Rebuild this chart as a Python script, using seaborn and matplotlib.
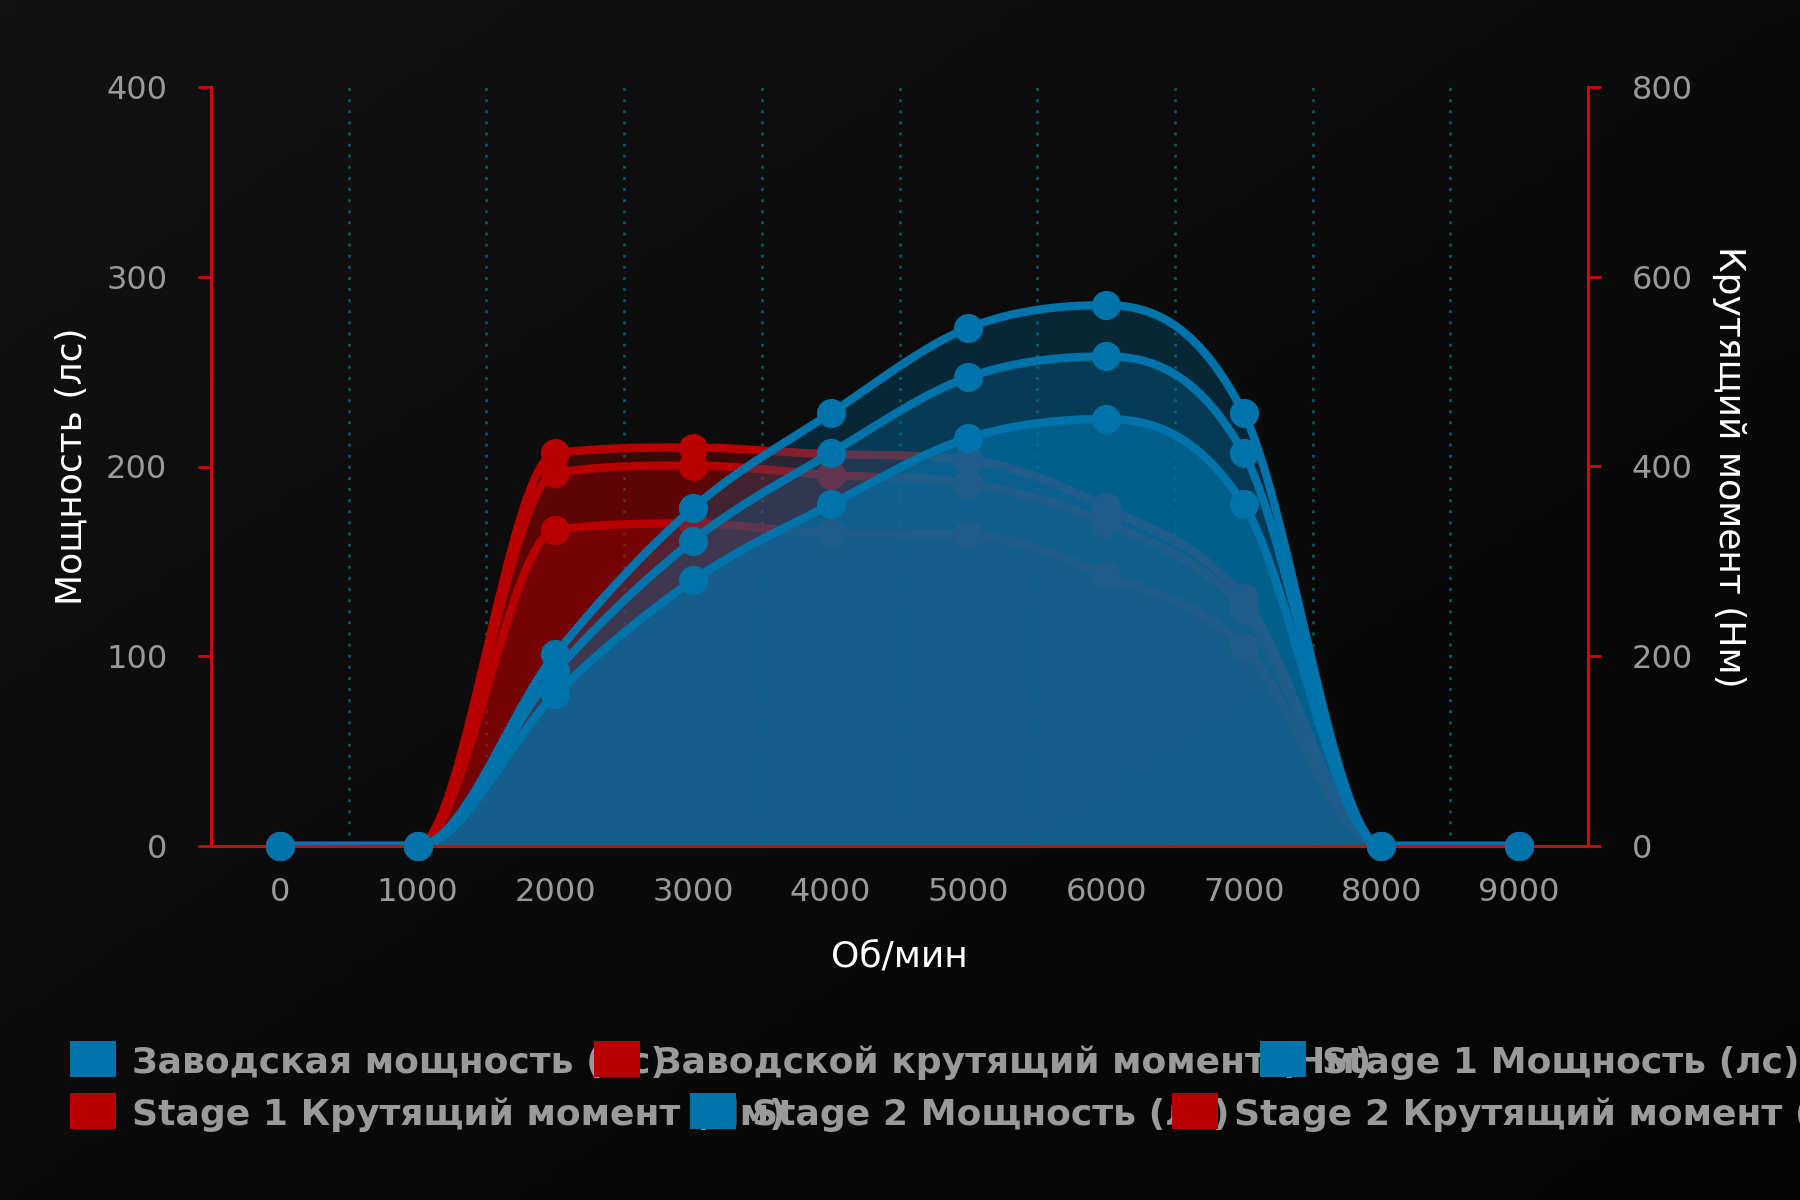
import numpy as np
import matplotlib
matplotlib.use("Agg")
import matplotlib.pyplot as plt
from matplotlib.patches import Rectangle
from matplotlib.ticker import FixedLocator
import seaborn as sns

# ── data ─────────────────────────────────────────────────────
rpm = [0, 1000, 2000, 3000, 4000, 5000, 6000, 7000, 8000, 9000]

power_factory = [0, 0, 80, 140, 180, 215, 225, 180, 0, 0]
power_stage1 = [0, 0, 92, 161, 207, 247, 258, 207, 0, 0]
power_stage2 = [0, 0, 101, 178, 228, 273, 285, 228, 0, 0]

torque_factory = [0, 0, 333, 340, 330, 328, 286, 210, 0, 0]
torque_stage1 = [0, 0, 393, 401, 391, 382, 340, 249, 0, 0]
torque_stage2 = [0, 0, 414, 420, 413, 407, 357, 261, 0, 0]

legend_labels = [
    "Заводская мощность (лс)",
    "Заводской крутящий момент (Нм)",
    "Stage 1 Мощность (лс)",
    "Stage 1 Крутящий момент (Нм)",
    "Stage 2 Мощность (лс)",
    "Stage 2 Крутящий момент (Нм)",
]

BLUE = "#0073AA"
RED = "#B80000"
AXIS_RED = "#CF0A0A"
GREY = "#9a9a9a"
GRID = "#0a5566"


def monotone_curve(xs, ys, steps=60):
    """Monotone cubic (Fritsch-Carlson) through the points, like Chart.js."""
    xs = np.asarray(xs, float)
    ys = np.asarray(ys, float)
    n = len(xs)
    dx = np.diff(xs)
    delta = np.diff(ys) / dx
    m = np.zeros(n)
    m[0] = delta[0]
    m[-1] = delta[-1]
    for i in range(1, n - 1):
        if np.sign(delta[i - 1]) != np.sign(delta[i]):
            m[i] = 0.0
        else:
            m[i] = (delta[i - 1] + delta[i]) / 2
    for i in range(n - 1):
        if abs(delta[i]) < 1e-12:
            m[i] = m[i + 1] = 0.0
            continue
        a = m[i] / delta[i]
        b = m[i + 1] / delta[i]
        sq = a * a + b * b
        if sq > 9:
            tau = 3 / np.sqrt(sq)
            m[i] = a * tau * delta[i]
            m[i + 1] = b * tau * delta[i]
    cx, cy = [], []
    for i in range(n - 1):
        t = np.linspace(0, 1, steps, endpoint=(i == n - 2))
        h00 = 2 * t**3 - 3 * t**2 + 1
        h10 = t**3 - 2 * t**2 + t
        h01 = -2 * t**3 + 3 * t**2
        h11 = t**3 - t**2
        cy.append(h00 * ys[i] + h10 * dx[i] * m[i] + h01 * ys[i + 1] + h11 * dx[i] * m[i + 1])
        cx.append(xs[i] + t * dx[i])
    return np.concatenate(cx), np.concatenate(cy)


sns.set_theme(style="dark")
plt.rcParams["font.family"] = ["DejaVu Sans"]

fig = plt.figure(figsize=(18, 12), dpi=100)

# dark diagonal gradient background
bg = fig.add_axes([0, 0, 1, 1], zorder=-10)
yy, xx = np.mgrid[0:1:120j, 0:1:180j]
shade = (18 - 14 * (xx + yy) / 2) / 255
bg.imshow(np.dstack([shade] * 3), extent=[0, 1, 0, 1], aspect="auto")
bg.axis("off")

ax = fig.add_axes([211 / 1800, 1 - 846 / 1200, 1377 / 1800, 759 / 1200])
ax2 = ax.twinx()
ax.set_zorder(2)
ax2.set_zorder(1)
ax.patch.set_visible(False)
ax2.patch.set_visible(False)

# torque (red) underneath, on the right axis
for vals in [torque_stage2, torque_stage1, torque_factory]:
    cx, cy = monotone_curve(rpm, vals)
    ax2.fill_between(cx, cy, 0, color=RED, alpha=0.28, lw=0, zorder=1)
for vals in [torque_stage2, torque_stage1, torque_factory]:
    cx, cy = monotone_curve(rpm, vals)
    sns.lineplot(x=cx, y=cy, ax=ax2, color=RED, lw=6, sort=False, estimator=None, zorder=2)
    sns.scatterplot(x=rpm, y=vals, ax=ax2, color=RED, s=440, linewidth=0, zorder=3, clip_on=False)

# power (blue) on top, on the left axis; factory fill is much denser
for vals, a in [(power_stage2, 0.27), (power_stage1, 0.27), (power_factory, 0.66)]:
    cx, cy = monotone_curve(rpm, vals)
    ax.fill_between(cx, cy, 0, color=BLUE, alpha=a, lw=0, zorder=1)
for vals in [power_stage2, power_stage1, power_factory]:
    cx, cy = monotone_curve(rpm, vals)
    sns.lineplot(x=cx, y=cy, ax=ax, color=BLUE, lw=6, sort=False, estimator=None, zorder=2)
    sns.scatterplot(x=rpm, y=vals, ax=ax, color=BLUE, s=440, linewidth=0, zorder=3, clip_on=False)

# axes, ticks, grid
ax.set_xlim(-500, 9500)
ax.set_ylim(0, 400)
ax2.set_ylim(0, 800)

ax.set_xticks(rpm)
ax.set_xticklabels([str(r) for r in rpm])
ax.xaxis.set_minor_locator(FixedLocator(np.arange(-500, 9501, 1000)))
ax.tick_params(axis="x", which="major", length=0, pad=22, labelsize=23, labelcolor=GREY)
ax.tick_params(axis="x", which="minor", length=9.5, width=2, color=AXIS_RED)

ax.set_yticks([0, 100, 200, 300, 400])
ax.tick_params(axis="y", length=9.5, width=2, color=AXIS_RED, labelcolor=GREY,
               labelsize=23, pad=22, left=True)
ax2.set_yticks([0, 200, 400, 600, 800])
ax2.tick_params(axis="y", length=9.5, width=2, color=AXIS_RED, labelcolor=GREY,
                labelsize=23, pad=22, right=True)

ax.grid(False)
ax2.grid(False)
ax2.xaxis.set_visible(True)
ax2.tick_params(axis="x", which="both", length=0, labelbottom=False, bottom=False)
ax2.xaxis.grid(True, which="minor", color=GRID, linestyle=(0, (1, 3)), linewidth=2)
ax2.set_axisbelow(True)

for side in ["left", "bottom", "right"]:
    ax.spines[side].set_visible(True)
    ax.spines[side].set_color(AXIS_RED)
    ax.spines[side].set_linewidth(2.2)
ax.spines["top"].set_visible(False)
for side in ax2.spines:
    ax2.spines[side].set_visible(False)

ax.set_xlabel("Об/мин", color="white", fontsize=26, va="center")
ax.xaxis.set_label_coords(0.5, -0.145)
ax.set_ylabel("Мощность (лс)", color="white", fontsize=26, va="center")
ax.yaxis.set_label_coords(-0.101, 0.5)
ax2.set_ylabel("Крутящий момент (Нм)", color="white", fontsize=26, rotation=270, va="center")
ax2.yaxis.set_label_coords(1.1025, 0.5)

# Chart.js-style legend, items overlap just as in the original:
# each colour box is painted over the end of the previous label
legend_colors = [BLUE, RED, BLUE, RED, BLUE, RED]
legend_slots = [(70, 1059), (594, 1059), (1260, 1059), (70, 1111), (690, 1111), (1172, 1111)]
for i, (label, col, (px, py)) in enumerate(zip(legend_labels, legend_colors, legend_slots)):
    box = Rectangle((px / 1800, 1 - (py + 18) / 1200), 46 / 1800, 36 / 1200,
                    transform=fig.transFigure, facecolor=col, edgecolor="none", zorder=10 + 2 * i)
    fig.patches.append(box)
    fig.text((px + 62) / 1800, 1 - (py + 4) / 1200, label, color=GREY, fontsize=26,
             fontweight="bold", ha="left", va="center", zorder=11 + 2 * i)

fig.savefig("out.png", dpi=100)
